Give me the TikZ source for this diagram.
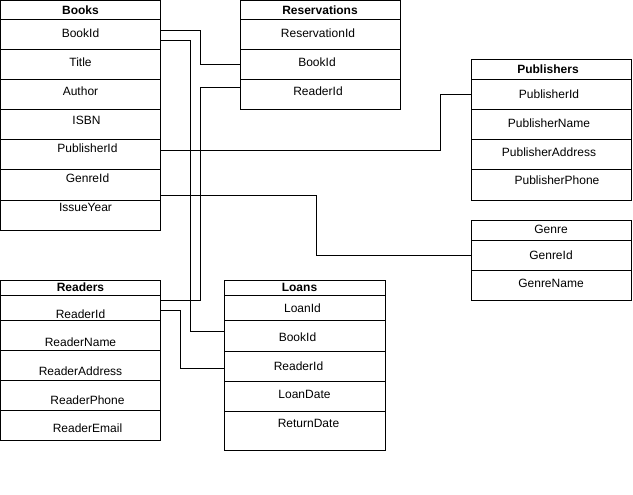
\documentclass[tikz,border=0pt]{standalone}
\usepackage{fontspec}
\setmainfont{Liberation Sans}
\tikzset{
  cell/.style={draw=black, line width=1pt, inner sep=0pt, outer sep=0pt},
  ctext/.style={inner sep=0pt, font=\fontsize{12}{14}\selectfont},
  link/.style={draw=black, line width=1pt},
}
% name, left, top, height, width, dx, dy, text
\newcommand\erow[8]{%
  \node[cell, minimum width=#5pt, minimum height=#4pt] (#1) at ({#2+#5/2},{#3+#4/2}) {};
  \node[ctext] (#1t) at ({#2+#5/2+#6},{#3+#7}) {#8};
}
\begin{document}
\begin{tikzpicture}[x=1pt,y=-1pt]
\useasboundingbox (0,0) rectangle (633,495);
% Books
\erow{bh}{0.5}{0.5}{19.5}{160}{0}{9.5}{\textbf{Books}}
\erow{b1}{0.5}{20}{30}{160}{0}{13.5}{BookId}
\erow{b2}{0.5}{50}{30}{160}{0}{12.5}{Title}
\erow{b3}{0.5}{80}{30}{160}{0}{11.5}{Author}
\erow{b4}{0.5}{110}{30}{160}{6}{10}{ISBN}
\erow{b5}{0.5}{140}{30}{160}{7}{8.5}{PublisherId}
\erow{b6}{0.5}{170}{30}{160}{7}{8}{GenreId}
\erow{b7}{0.5}{200}{30}{160}{5}{7}{IssueYear}
% Reservations
\erow{rh}{240}{0.5}{19.5}{160}{0}{9.5}{\textbf{Reservations}}
\erow{r1}{240}{20}{30}{160}{-2}{13.5}{ReservationId}
\erow{r2}{240}{50}{30}{160}{-3}{12.5}{BookId}
\erow{r3}{240}{80}{30}{160}{-2}{11.5}{ReaderId}
% Publishers
\erow{ph}{471}{60}{20}{160}{-3}{9.5}{\textbf{Publishers}}
\erow{p1}{471}{80}{30}{160}{-2}{14.5}{PublisherId}
\erow{p2}{471}{110}{30}{160}{-2}{13.5}{PublisherName}
\erow{p3}{471}{140}{30}{160}{-2}{12}{PublisherAddress}
\erow{p4}{471}{170}{30}{160}{6}{10}{PublisherPhone}
% Genre
\erow{gh}{471}{220}{20}{160}{0}{9.5}{Genre}
\erow{g1}{471}{240}{30}{160}{0}{15}{GenreId}
\erow{g2}{471}{270}{30}{160}{0}{13}{GenreName}
% Readers
\erow{dh}{0.5}{280}{15}{160}{0}{7}{\textbf{Readers}}
\erow{d1}{0.5}{295}{25}{160}{0}{19}{ReaderId}
\erow{d2}{0.5}{320}{30}{160}{0}{22}{ReaderName}
\erow{d3}{0.5}{350}{30}{160}{0}{21.5}{ReaderAddress}
\erow{d4}{0.5}{380}{30}{160}{7}{20}{ReaderPhone}
\erow{d5}{0.5}{410}{30}{160}{7}{18.5}{ReaderEmail}
% Loans
\erow{lh}{224}{280}{15}{161}{-5}{7}{\textbf{Loans}}
\erow{l1}{224}{295}{25}{161}{-2}{13.5}{LoanId}
\erow{l2}{224}{320}{31}{161}{-7}{17}{BookId}
\erow{l3}{224}{351}{30}{161}{-6}{15}{ReaderId}
\erow{l4}{224}{381}{30}{161}{0}{13}{LoanDate}
\erow{l5}{224}{411}{39}{161}{4}{12}{ReturnDate}
% Connectors
\draw[link] ([yshift=4pt]b1.east) -| ([xshift=-40pt]r2.west) -- (r2.west);
\draw[link] ([yshift=-6pt]b1.east) -| ([xshift=-34pt,yshift=4pt]l2.west) -- ([yshift=4pt]l2.west);
\draw[link] ([yshift=7pt]r3.west) -| ([xshift=40pt,yshift=7.5pt]d1.east) -- ([yshift=7.5pt]d1.east);
\draw[link] ([yshift=-2.5pt]d1.east) -| ([xshift=-44pt,yshift=-2pt]l3.west) -- ([yshift=-2pt]l3.west);
\draw[link] ([yshift=4.5pt]b5.east) -| ([xshift=-31pt]p1.west) -- (p1.west);
\draw[link] ([yshift=-10pt]b6.east) -| ([xshift=-155pt]g1.west) -- (g1.west);
\end{tikzpicture}
\end{document}
